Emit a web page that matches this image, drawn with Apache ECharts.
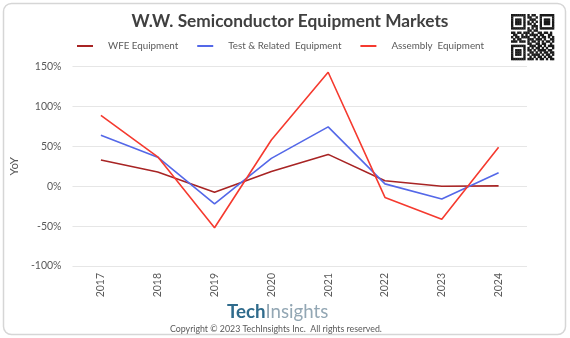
<!DOCTYPE html>
<html>
<head>
<meta charset="utf-8">
<script src="https://cdn.jsdelivr.net/npm/echarts@6/dist/echarts.min.js"></script>
<style>
  html, body { margin: 0; padding: 0; background: #fff; }
  #chart { width: 570px; height: 338px; }
</style>
</head>
<body>
<div id="chart"></div>
<script>
// Year-over-year growth of worldwide semiconductor equipment markets (%)
const years = ['2017', '2018', '2019', '2020', '2021', '2022', '2023', '2024'];
const wfe = [33, 18, -7.5, 18.5, 40, 7, 0, 0.5];
const testRelated = [64, 36.5, -22, 35, 74.5, 3, -16, 17];
const assembly = [89, 37, -52, 58, 143, -14, -41.5, 49];
const seriesNames = ['WFE Equipment', 'Test & Related  Equipment', 'Assembly  Equipment'];
const yTicks = { min: -100, max: 150, interval: 50 };

const FONT = 'Lato, "Open Sans", sans-serif';
const TXT = '#595959';

// Small QR-style badge built from a fixed bit pattern
function qrBadge(x0, y0, w, h) {
  const n = 21, cw = w / n, ch = h / n;
  const rows = [
    '111111101011001111111',
    '100000101100101000001',
    '101110100111001011101',
    '101110101010101011101',
    '101110101101001011101',
    '100000100011101000001',
    '111111101010101111111',
    '000000001101100000000',
    '110110111010011011010',
    '011001010111101100110',
    '101101111001010110101',
    '010110001110111010011',
    '111011101011010101101',
    '000000001100110110010',
    '111111100111011010111',
    '100000101010110101001',
    '101110101101011110110',
    '101110100110101011011',
    '101110101011110101101',
    '100000100101011010110',
    '111111101110101101011'
  ];
  const out = [];
  rows.forEach((r, j) => {
    for (let i = 0; i < n; i++) {
      if (r[i] === '1') {
        out.push({ type: 'rect', silent: true,
          shape: { x: x0 + i * cw, y: y0 + j * ch, width: cw + 0.3, height: ch + 0.3 },
          style: { fill: '#1a1a1a' } });
      }
    }
  });
  return out;
}

const chart = echarts.init(document.getElementById('chart'), null, { renderer: 'canvas' });

const option = {
  backgroundColor: '#ffffff',
  animation: false,
  title: {
    text: 'W.W. Semiconductor Equipment Markets',
    left: 285, top: 8, textAlign: 'center',
    textStyle: { fontFamily: FONT, fontSize: 17.3, fontWeight: 'bold', color: '#404040' }
  },
  legend: {
    top: 36, left: 72,
    itemWidth: 16, itemHeight: 2, itemGap: 19,
    icon: 'rect',
    textStyle: { fontFamily: FONT, fontSize: 9.8, color: TXT, padding: [0, 0, 0, 10] },
    data: seriesNames
  },
  grid: { left: 52, right: 43, top: 66.7, bottom: 72, containLabel: false },
  xAxis: {
    type: 'category',
    data: years,
    boundaryGap: true,
    axisLine: { show: false },
    axisTick: { show: false },
    axisLabel: { rotate: 90, margin: 7, fontFamily: FONT, fontSize: 10.5, color: TXT }
  },
  yAxis: {
    type: 'value',
    min: yTicks.min, max: yTicks.max, interval: yTicks.interval,
    name: 'YoY', nameLocation: 'middle', nameGap: 26,
    nameTextStyle: { fontFamily: FONT, fontSize: 11.5, color: TXT },
    axisLine: { show: false },
    axisTick: { show: false },
    axisLabel: { formatter: '{value}%', margin: 11, fontFamily: FONT, fontSize: 10.5, color: TXT },
    splitLine: { lineStyle: { color: '#e6e6e6', width: 1 } }
  },
  series: [
    { name: seriesNames[0], type: 'line', data: wfe, symbol: 'none',
      color: '#a82424', lineStyle: { width: 1.6, color: '#a82424' } },
    { name: seriesNames[1], type: 'line', data: testRelated, symbol: 'none',
      color: '#5468e8', lineStyle: { width: 1.6, color: '#5468e8' } },
    { name: seriesNames[2], type: 'line', data: assembly, symbol: 'none',
      color: '#f53a2f', lineStyle: { width: 1.6, color: '#f53a2f' } }
  ],
  graphic: [
    { type: 'rect', silent: true, z: -1,
      shape: { x: 3.5, y: 3.5, width: 562, height: 331, r: 8 },
      style: { fill: 'none', stroke: '#d6d6d6', lineWidth: 1.5 } },
    { type: 'text', left: 227, top: 302, silent: true,
      style: {
        text: '{a|Tech}{b|Insights}',
        rich: {
          a: { fontFamily: FONT, fontSize: 18.7, fontWeight: 'bold', fill: '#2f6b8c' },
          b: { fontFamily: FONT, fontSize: 18.7, fill: '#93a7b4' }
        }
      } },
    { type: 'text', left: 170, top: 325, silent: true,
      style: { text: 'Copyright \u00a9 2023 TechInsights Inc.  All rights reserved.',
        fontFamily: FONT, fontSize: 8.8, fill: TXT } },
    { type: 'group', silent: true, children: qrBadge(511, 14, 43, 46) }
  ]
};

chart.setOption(option);
</script>
</body>
</html>
